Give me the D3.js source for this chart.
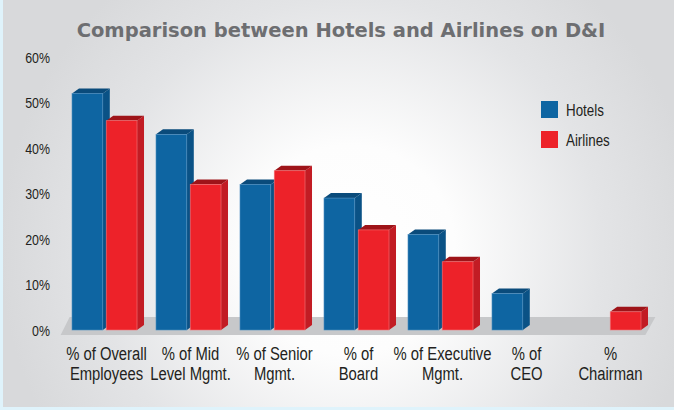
<!DOCTYPE html>
<html lang="en">
<head>
    <meta charset="UTF-8">
    <title>Comparison between Hotels and Airlines on D&amp;I</title>
    <script src="https://cdnjs.cloudflare.com/ajax/libs/d3/7.8.5/d3.min.js"></script>
    <style>
        body {
            margin: 0;
            overflow: hidden;
            background: #dff3fb;
        }
        svg { display: block; }
        .label { font-family: "Liberation Sans", Arial, sans-serif; fill: #231f20; }
        .title { font-family: "DejaVu Sans", Verdana, sans-serif; font-weight: bold; fill: #6d6e71; }
    </style>
</head>
<body>
    <script>
        // Data
        const categories = [
            ['% of Overall', 'Employees'],
            ['% of Mid', 'Level Mgmt.'],
            ['% of Senior', 'Mgmt.'],
            ['% of', 'Board'],
            ['% of Executive', 'Mgmt.'],
            ['% of', 'CEO'],
            ['%', 'Chairman']
        ];
        const seriesNames = ['Hotels', 'Airlines'];
        const hotels = [52, 43, 32, 29, 21, 8, 0];
        const airlines = [46, 32, 35, 22, 15, 0, 4];
        const yTicks = [0, 10, 20, 30, 40, 50, 60];

        const width = 674, height = 410;
        const squeeze = 0.78;   // condensed look for labels
        const depthX = 7, depthY = 5;

        const colors = {
            Hotels:   { front: '#0e65a2', side: '#0a5286', top: '#0a4b7b', edge: '#4f8fc0' },
            Airlines: { front: '#ed2229', side: '#c21c24', top: '#9e1419', edge: '#f5777b' }
        };

        const svg = d3.select('body')
            .append('svg')
            .attr('width', width)
            .attr('height', height);

        // Background panel
        const defs = svg.append('defs');
        const bg = defs.append('radialGradient')
            .attr('id', 'bg')
            .attr('gradientUnits', 'userSpaceOnUse')
            .attr('cx', 350).attr('cy', 250).attr('r', 350);
        bg.append('stop').attr('offset', 0).attr('stop-color', '#ffffff');
        bg.append('stop').attr('offset', 0.3).attr('stop-color', '#fdfdfd');
        bg.append('stop').attr('offset', 0.72).attr('stop-color', '#e3e4e6');
        bg.append('stop').attr('offset', 1).attr('stop-color', '#d8d9db');

        svg.append('rect')
            .attr('x', 3).attr('y', 0)
            .attr('width', width - 3).attr('height', height - 3)
            .attr('fill', 'url(#bg)');

        // Scales
        const x0 = d3.scaleBand()
            .domain(d3.range(categories.length))
            .range([63.6, 649.4])
            .paddingInner(0.226)
            .paddingOuter(0.1);

        const x1 = d3.scaleBand()
            .domain(seriesNames)
            .range([0, x0.bandwidth()])
            .paddingInner(0.1);

        const y = d3.scaleLinear()
            .domain([0, 60])
            .range([330, 57]);

        // Floor
        const floorTop = y(0) - 13, floorBottom = y(0) + 5;
        const fl = x0.range()[0] - 3, fr = x0.range()[1] + 6;
        svg.append('polygon')
            .attr('points', [
                [fl, floorBottom], [fl + 9, floorTop],
                [fr, floorTop], [fr - 10, floorBottom]
            ].map(p => p.join(',')).join(' '))
            .attr('fill', '#c7c8ca');

        // Y axis labels
        svg.append('g')
            .selectAll('text')
            .data(yTicks)
            .join('text')
            .attr('class', 'label')
            .attr('transform', d => `translate(50,${y(d) + 5.5}) scale(${squeeze + 0.02},1)`)
            .attr('text-anchor', 'end')
            .attr('font-size', 15.5)
            .text(d => d + '%');

        // Bars
        const barData = [];
        categories.forEach((c, i) => {
            barData.push({ i, s: 'Hotels', v: hotels[i] });
            barData.push({ i, s: 'Airlines', v: airlines[i] });
        });

        const bars = svg.append('g')
            .selectAll('g')
            .data(barData.filter(d => d.v > 0))
            .join('g');

        bars.each(function (d) {
            const g = d3.select(this);
            const bx = x0(d.i) + x1(d.s);
            const bw = x1.bandwidth();
            const top = y(d.v), bottom = y(0);
            const c = colors[d.s];

            g.append('polygon')
                .attr('points', [
                    [bx + bw, top], [bx + bw + depthX, top - depthY],
                    [bx + bw + depthX, bottom - depthY], [bx + bw, bottom]
                ].map(p => p.join(',')).join(' '))
                .attr('fill', c.side);

            g.append('polygon')
                .attr('points', [
                    [bx, top], [bx + depthX, top - depthY],
                    [bx + bw + depthX, top - depthY], [bx + bw, top]
                ].map(p => p.join(',')).join(' '))
                .attr('fill', c.top);

            g.append('rect')
                .attr('x', bx).attr('y', top)
                .attr('width', bw).attr('height', bottom - top)
                .attr('fill', c.front)
                .attr('stroke', c.edge)
                .attr('stroke-width', 0.6);
        });

        // Category labels
        const labels = svg.append('g')
            .selectAll('g')
            .data(categories)
            .join('g')
            .attr('transform', (d, i) => `translate(${x0(i) + x0.bandwidth() / 2 + 2},0)`);

        labels.selectAll('text')
            .data(d => d)
            .join('text')
            .attr('class', 'label')
            .attr('transform', (d, j) => `translate(0,${360 + j * 20}) scale(${squeeze},1)`)
            .attr('text-anchor', 'middle')
            .attr('font-size', 19)
            .text(d => d);

        // Legend
        const legend = svg.append('g')
            .selectAll('g')
            .data(seriesNames)
            .join('g')
            .attr('transform', (d, i) => `translate(541,${101 + i * 30})`);

        legend.append('rect')
            .attr('width', 17).attr('height', 17)
            .attr('fill', d => colors[d].front);

        legend.append('text')
            .attr('class', 'label')
            .attr('transform', `translate(25,14.5) scale(${squeeze + 0.03},1)`)
            .attr('font-size', 16.5)
            .text(d => d);

        // Title
        svg.append('text')
            .attr('class', 'title')
            .attr('x', 341).attr('y', 37)
            .attr('text-anchor', 'middle')
            .attr('font-size', 19.5)
            .text('Comparison between Hotels and Airlines on D&I');
    </script>
</body>
</html>
